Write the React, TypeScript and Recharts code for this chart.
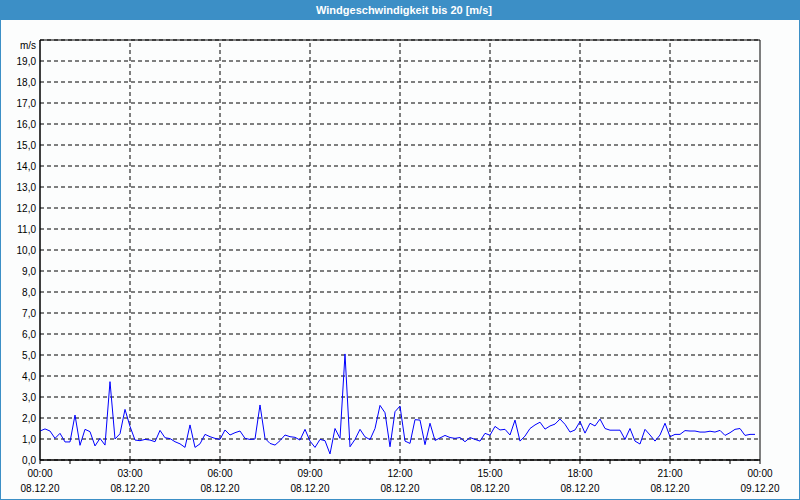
import React from "react";
import {
  LineChart,
  Line,
  XAxis,
  YAxis,
  CartesianGrid,
  ReferenceLine,
  ReferenceArea,
} from "recharts";

// 10-Minuten-Werte, 08.12.20 00:00 bis 23:50
const stepMinutes = 10;
const windSpeed: number[] = [
  1.38, 1.48, 1.38, 1.03, 1.27, 0.86, 0.86, 2.14, 0.7, 1.46, 1.35, 0.67,
  1.03, 0.71, 3.73, 1.0, 1.25, 2.41, 1.6, 0.95, 0.92, 0.98, 0.95, 0.87,
  1.41, 1.06, 1.02, 0.87, 0.77, 0.6, 1.67, 0.6, 0.77, 1.22, 1.11, 1.03,
  0.98, 1.43, 1.19, 1.3, 1.38, 1.03, 0.98, 1.0, 2.62, 1.03, 0.79, 0.71,
  0.92, 1.19, 1.11, 1.08, 0.95, 1.46, 0.9, 0.6, 0.98, 0.92, 0.29, 1.5,
  1.03, 5.05, 0.63, 0.98, 1.46, 1.1, 0.97, 1.5, 2.6, 2.25, 0.63, 2.3,
  2.57, 0.9, 0.79, 1.92, 1.9, 0.73, 1.75, 0.93, 1.05, 1.17, 1.07, 1.03,
  1.07, 0.87, 1.07, 0.98, 0.9, 1.27, 1.18, 1.6, 1.43, 1.46, 1.19, 1.9,
  0.9, 1.14, 1.5, 1.67, 1.8, 1.47, 1.62, 1.71, 1.95, 1.7, 1.33, 1.43,
  1.83, 1.28, 1.75, 1.62, 1.95, 1.5, 1.42, 1.42, 1.42, 0.98, 1.5, 0.9,
  0.76, 1.46, 1.19, 0.9, 1.19, 1.75, 1.11, 1.22, 1.22, 1.4, 1.38, 1.38,
  1.33, 1.33, 1.37, 1.33, 1.41, 1.17, 1.3, 1.46, 1.5, 1.17, 1.22, 1.22,
];

const hourTicks: number[] = [
  0, 60, 120, 180, 240, 300, 360, 420, 480, 540, 600, 660, 720, 780, 840,
  900, 960, 1020, 1080, 1140, 1200, 1260, 1320, 1380, 1440,
];
const labelMinutes: number[] = [0, 180, 360, 540, 720, 900, 1080, 1260, 1440];
const timeLabels: string[] = [
  "00:00", "03:00", "06:00", "09:00", "12:00", "15:00", "18:00", "21:00", "00:00",
];
const dateLabels: string[] = [
  "08.12.20", "08.12.20", "08.12.20", "08.12.20", "08.12.20",
  "08.12.20", "08.12.20", "08.12.20", "09.12.20",
];
const gridMinutes: number[] = [180, 360, 540, 720, 900, 1080, 1260];
const speedTicks: number[] = [
  0, 1, 2, 3, 4, 5, 6, 7, 8, 9, 10, 11, 12, 13, 14, 15, 16, 17, 18, 19, 20,
];

const chartData = windSpeed.map((v, i) => ({ minute: i * stepMinutes, speed: v }));

const FONT = "'Liberation Sans', Arial, sans-serif";

const TimeTick = (props: any) => {
  const { x, y, payload } = props;
  const idx = labelMinutes.indexOf(payload.value);
  if (idx < 0) return null;
  return (
    <g>
      <text x={x} y={y + 11} textAnchor="middle" fontSize={10} fontFamily={FONT} fill="#000">
        {timeLabels[idx]}
      </text>
      <text x={x} y={y + 26} textAnchor="middle" fontSize={10} fontFamily={FONT} fill="#000">
        {dateLabels[idx]}
      </text>
    </g>
  );
};

const SpeedTick = (props: any) => {
  const { x, y, payload } = props;
  const top = payload.value === 20;
  return (
    <text
      x={x}
      y={top ? y + 5 : y}
      dy="0.355em"
      textAnchor="end"
      fontSize={10}
      fontFamily={FONT}
      fill="#000"
    >
      {top ? "m/s" : payload.value.toFixed(1).replace(".", ",")}
    </text>
  );
};

const App: React.FC = () => {
  return (
    <div
      style={{
        position: "absolute",
        left: 0,
        top: 0,
        width: 800,
        height: 500,
        background: "#fcfdfd",
      }}
    >
      <LineChart
        width={800}
        height={500}
        data={chartData}
        margin={{ top: 40, right: 40, bottom: 0, left: 0 }}
      >
        <CartesianGrid vertical={false} stroke="#000" strokeDasharray="4 3" />
        {gridMinutes.map((m) => (
          <ReferenceLine key={m} x={m} stroke="#000" strokeDasharray="4 3" />
        ))}
        <XAxis
          type="number"
          dataKey="minute"
          domain={[0, 1440]}
          ticks={hourTicks}
          interval={0}
          tickSize={4}
          tickMargin={2}
          axisLine={{ stroke: "#000" }}
          tickLine={{ stroke: "#000" }}
          tick={<TimeTick />}
          height={40}
        />
        <YAxis
          type="number"
          domain={[0, 20]}
          ticks={speedTicks}
          interval={0}
          width={40}
          tickSize={0}
          tickMargin={4}
          tickLine={false}
          axisLine={{ stroke: "#000" }}
          tick={<SpeedTick />}
        />
        <ReferenceArea x1={0} x2={1440} y1={0} y2={20} fill="none" stroke="#000" strokeOpacity={1} />
        <Line
          type="linear"
          dataKey="speed"
          stroke="#0000ff"
          strokeWidth={1}
          dot={false}
          isAnimationActive={false}
        />
      </LineChart>
      <div
        style={{
          position: "absolute",
          left: 0,
          top: 0,
          width: 800,
          height: 20,
          background: "#3c8fc6",
          color: "#fff",
          fontFamily: FONT,
          fontSize: 11,
          fontWeight: "bold",
          lineHeight: "20px",
          textAlign: "center",
          paddingLeft: 8,
          boxSizing: "border-box",
        }}
      >
        Windgeschwindigkeit bis 20 [m/s]
      </div>
      <div
        style={{
          position: "absolute",
          left: 0,
          top: 0,
          width: 800,
          height: 500,
          border: "1px solid #3c8fc6",
          boxSizing: "border-box",
          pointerEvents: "none",
        }}
      />
    </div>
  );
};

export default App;
